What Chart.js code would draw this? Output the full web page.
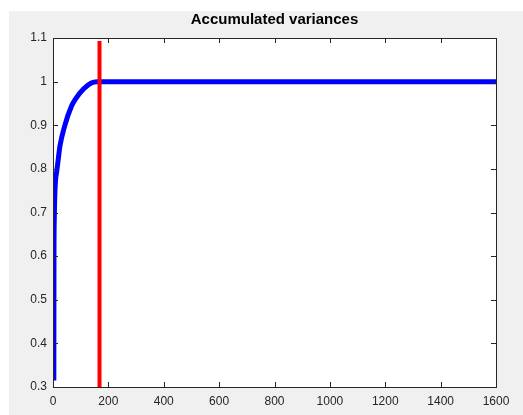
<!DOCTYPE html>
<html>
<head>
<meta charset="utf-8">
<script src="https://cdn.jsdelivr.net/npm/chart.js@4"></script>
<style>
  html, body { margin: 0; padding: 0; background: #ffffff; }
  #wrap { position: absolute; left: 9px; top: 11px; width: 514px; height: 404px; background: #f0f0f0; }
</style>
</head>
<body>
<div id="wrap"><canvas id="chart" width="514" height="404"></canvas></div>
<script>
// accumulated variance curve
const components = [3, 3.5, 4.5, 7, 14.5, 19, 25, 42, 67, 81, 110, 138, 159, 200, 1600];
const accVariance = [0.315, 0.6, 0.68, 0.749, 0.799, 0.822, 0.852, 0.898, 0.944, 0.96, 0.983, 0.997, 1.0, 1.0, 1.0];

// red cut-off marker
const cutX = [168, 168];
const cutY = [0.3, 1.093];

const xTicks = [0, 200, 400, 600, 800, 1000, 1200, 1400, 1600];
const yTicks = [0.3, 0.4, 0.5, 0.6, 0.7, 0.8, 0.9, 1, 1.1];

const axisColor = '#262626';

const plotBox = {
    id: 'plotBox',
    beforeDraw(chart) {
        const a = chart.chartArea;
        const ctx = chart.ctx;
        ctx.save();
        ctx.fillStyle = '#ffffff';
        ctx.fillRect(a.left, a.top, a.right - a.left, a.bottom - a.top);
        ctx.restore();
    },
    afterDraw(chart) {
        const a = chart.chartArea;
        const ctx = chart.ctx;
        const xs = chart.scales.x, ys = chart.scales.y;
        const len = 5;
        ctx.save();
        ctx.strokeStyle = axisColor;
        ctx.lineWidth = 1;
        ctx.strokeRect(Math.round(a.left) + 0.5, Math.round(a.top) + 0.5,
            Math.round(a.right - a.left), Math.round(a.bottom - a.top));
        ctx.beginPath();
        xTicks.forEach(v => {
            const px = Math.round(xs.getPixelForValue(v)) + 0.5;
            ctx.moveTo(px, a.bottom); ctx.lineTo(px, a.bottom - len);
            ctx.moveTo(px, a.top); ctx.lineTo(px, a.top + len);
        });
        yTicks.forEach(v => {
            const py = Math.round(ys.getPixelForValue(v)) + 0.5;
            ctx.moveTo(a.left, py); ctx.lineTo(a.left + len, py);
            ctx.moveTo(a.right, py); ctx.lineTo(a.right - len, py);
        });
        ctx.stroke();
        // title
        ctx.fillStyle = '#000000';
        ctx.font = 'bold 15px "Liberation Sans", Arial, sans-serif';
        ctx.textAlign = 'center';
        ctx.textBaseline = 'middle';
        ctx.fillText('Accumulated variances', (a.left + a.right) / 2, 9);
        ctx.restore();
    }
};

new Chart(document.getElementById('chart'), {
    type: 'line',
    data: {
        datasets: [
            {
                data: cutX.map((x, i) => ({ x: x, y: cutY[i] })),
                borderColor: '#ff0000',
                borderWidth: 4,
                pointRadius: 0,
                clip: false
            },
            {
                data: components.map((x, i) => ({ x: x, y: accVariance[i] })),
                borderColor: '#0000ff',
                borderWidth: 5,
                pointRadius: 0,
                cubicInterpolationMode: 'monotone'
            }
        ]
    },
    options: {
        responsive: false,
        animation: false,
        layout: { padding: { top: 27, right: 27, left: 0, bottom: 0 } },
        plugins: {
            legend: { display: false },
            tooltip: { enabled: false },
            title: { display: false }
        },
        scales: {
            x: {
                type: 'linear',
                min: 0,
                max: 1600,
                afterBuildTicks: s => { s.ticks = xTicks.map(v => ({ value: v })); },
                afterFit: s => { s.height = 28; },
                grid: { display: false, drawTicks: false },
                border: { display: false },
                ticks: {
                    color: axisColor,
                    padding: 7,
                    maxRotation: 0,
                    font: { family: '"Liberation Sans", Arial, sans-serif', size: 12 },
                    callback: v => String(v)
                }
            },
            y: {
                type: 'linear',
                min: 0.3,
                max: 1.1,
                afterBuildTicks: s => { s.ticks = yTicks.map(v => ({ value: v })); },
                afterFit: s => { s.width = 44; },
                grid: { display: false, drawTicks: false },
                border: { display: false },
                ticks: {
                    color: axisColor,
                    padding: 6,
                    font: { family: '"Liberation Sans", Arial, sans-serif', size: 12 },
                    callback: v => String(Math.round(v * 10) / 10)
                }
            }
        }
    },
    plugins: [plotBox]
});
</script>
</body>
</html>
